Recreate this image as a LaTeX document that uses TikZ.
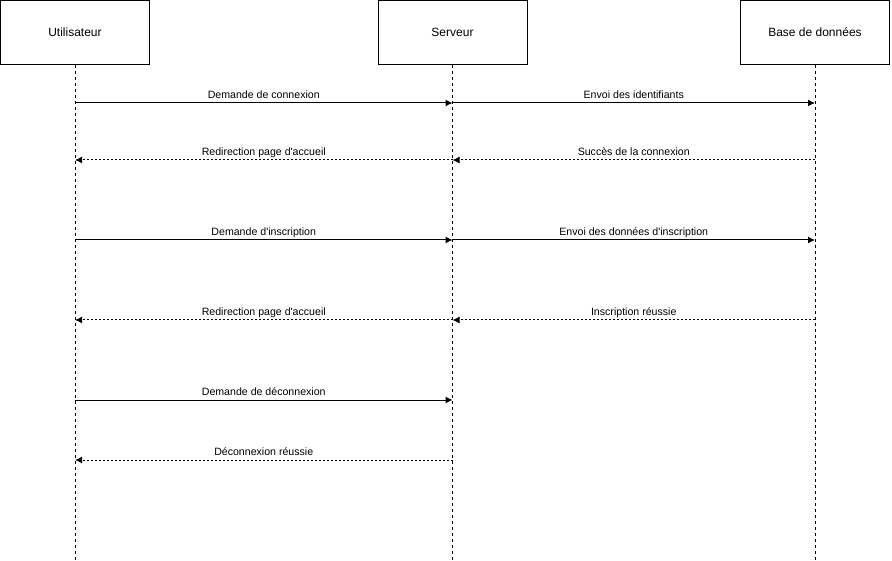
\documentclass[tikz,border=0pt]{standalone}
\usepackage{fontspec}
\setmainfont{Liberation Sans}
\usetikzlibrary{arrows.meta,positioning}
\tikzset{>={Latex[width=7pt,length=7pt]}}

\begin{document}
\begin{tikzpicture}[x=1pt, y=1pt, line width=1pt,
  actor/.style={draw, minimum width=149pt, minimum height=64pt, inner sep=0pt, font=\fontsize{12}{14}\selectfont},
  lifeline/.style={dash pattern=on 3pt off 3pt, line width=0.8pt},
  call/.style={->},
  reply/.style={->, dash pattern=on 2pt off 2pt},
  msg/.style={midway, anchor=base, yshift=4.5pt, inner sep=0pt, font=\fontsize{10.6}{12}\selectfont}]

  \useasboundingbox (0,0) rectangle (892,-561);

  % participants
  \node[actor] (user) at (75,-32.5) {Utilisateur};
  \node[actor] (server) at (452.5,-32.5) {Serveur};
  \node[actor] (db) at (815,-32.5) {Base de données};

  \draw[lifeline] (user.south) -- (user |- 0,-561);
  \draw[lifeline] (server.south) -- (server |- 0,-561);
  \draw[lifeline] (db.south) -- (db |- 0,-561);

  % connexion
  \draw[call] (user |- 0,-103) -- node[msg]{Demande de connexion} (server |- 0,-103); %% U->S
  \draw[call] (server |- 0,-103) -- node[msg]{Envoi des identifiants} (db |- 0,-103); %% S->B
  \draw[reply] (db |- 0,-160) -- node[msg]{Succès de la connexion} (server |- 0,-160); %% B->S
  \draw[reply] (server |- 0,-160) -- node[msg]{Redirection page d\textquotesingle accueil} (user |- 0,-160); %% S->U

  % inscription
  \draw[call] (user |- 0,-240) -- node[msg]{Demande d\textquotesingle inscription} (server |- 0,-240); %% U->S
  \draw[call] (server |- 0,-240) -- node[msg]{Envoi des données d\textquotesingle inscription} (db |- 0,-240); %% S->B
  \draw[reply] (db |- 0,-320) -- node[msg]{Inscription réussie} (server |- 0,-320); %% B->S
  \draw[reply] (server |- 0,-320) -- node[msg]{Redirection page d\textquotesingle accueil} (user |- 0,-320); %% S->U

  % deconnexion
  \draw[call] (user |- 0,-400) -- node[msg]{Demande de déconnexion} (server |- 0,-400); %% U->S
  \draw[reply] (server |- 0,-460) -- node[msg]{Déconnexion réussie} (user |- 0,-460); %% S->U

\end{tikzpicture}
\end{document}
